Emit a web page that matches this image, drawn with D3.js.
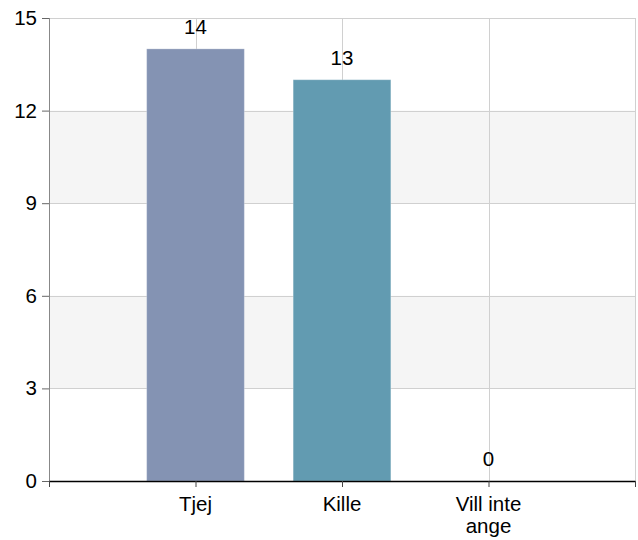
<!DOCTYPE html>
<html>
<head>
<meta charset="utf-8">
<script src="https://cdn.jsdelivr.net/npm/d3@7"></script>
<style>
  body { margin: 0; background: #fff; }
  text { font-family: "Liberation Sans", Arial, sans-serif; }
</style>
</head>
<body>
<div id="chart"></div>
<script>
const categories = ['Tjej', 'Kille', 'Vill inte ange']
const values = [14, 13, 0]
const colors = ['#8493b3', '#629bb1', '#7fa7c0']
const yTicks = [0, 3, 6, 9, 12, 15]

const chartWidth = 638
const chartHeight = 540
const margin = { top: 18, bottom: 59, left: 49, right: 3 }
const width = chartWidth - margin.left - margin.right
const height = chartHeight - margin.top - margin.bottom
const fontSize = 20.5

const svg = d3
  .select('#chart')
  .append('svg')
  .attr('width', chartWidth)
  .attr('height', chartHeight)
  .append('g')
  .attr('transform', `translate(${margin.left}, ${margin.top})`)

// categories sit at 1..n on a linear scale, with half a slot of room each side
const x = d3.scaleLinear().domain([0, categories.length + 1]).range([0, width])
const y = d3.scaleLinear().domain([0, 15]).range([height, 0])
const slot = x(1) - x(0)
const barWidth = slot * 2 / 3

// alternating bands
for (let i = 0; i < yTicks.length - 1; i++) {
  if (i % 2 === 1) {
    svg
      .append('rect')
      .attr('x', 0)
      .attr('y', y(yTicks[i + 1]))
      .attr('width', width)
      .attr('height', y(yTicks[i]) - y(yTicks[i + 1]))
      .attr('fill', '#f5f5f5')
  }
}

// grid
svg
  .selectAll('.hgrid')
  .data(yTicks)
  .enter()
  .append('line')
  .attr('x1', 0)
  .attr('x2', width)
  .attr('y1', (d) => Math.round(y(d)) + 0.5)
  .attr('y2', (d) => Math.round(y(d)) + 0.5)
  .attr('stroke', '#d0d0d0')
const xGrid = d3.range(1, categories.length + 2)
svg
  .selectAll('.vgrid')
  .data(xGrid)
  .enter()
  .append('line')
  .attr('x1', (d) => Math.round(x(d)) + 0.5)
  .attr('x2', (d) => Math.round(x(d)) + 0.5)
  .attr('y1', 0)
  .attr('y2', height)
  .attr('stroke', '#d0d0d0')

// bars
svg
  .selectAll('.bar')
  .data(values)
  .enter()
  .append('rect')
  .attr('class', 'bar')
  .attr('x', (d, i) => x(i + 1) - barWidth / 2)
  .attr('y', (d) => y(d))
  .attr('width', barWidth)
  .attr('height', (d) => height - y(d))
  .attr('fill', (d, i) => colors[i])
  .attr('stroke', 'rgba(255,255,255,0.25)')
  .attr('stroke-width', 1)

// value labels
svg
  .selectAll('.val')
  .data(values)
  .enter()
  .append('text')
  .text((d) => d)
  .attr('x', (d, i) => x(i + 1))
  .attr('y', (d) => y(d) - 15)
  .attr('text-anchor', 'middle')
  .attr('font-size', fontSize)
  .attr('fill', '#000')

// y axis
const yAxis = svg
  .append('g')
  .attr('class', 'axis y-axis')
  .call(d3.axisLeft(y).tickValues(yTicks).tickSize(7).tickPadding(5))
yAxis.select('.domain').attr('stroke', '#888').attr('d', `M0.5,0V${height + 6}`)
yAxis.selectAll('.tick line').attr('stroke', '#666')
yAxis.selectAll('.tick text').attr('font-size', fontSize).attr('fill', '#000').attr('font-family', null)

// x axis
const xAxis = svg
  .append('g')
  .attr('class', 'axis x-axis')
  .attr('transform', `translate(0, ${height})`)
  .call(
    d3
      .axisBottom(x)
      .tickValues(d3.range(0, categories.length + 2))
      .tickSize(6)
      .tickSizeOuter(0)
      .tickFormat(() => '')
  )
xAxis.select('.domain').attr('stroke', '#000').attr('stroke-width', 1.3)
xAxis.selectAll('.tick line').attr('stroke', '#444')

// category labels, wrapped
const wrapAt = 10
categories.forEach((c, i) => {
  const words = c.split(' ')
  const lines = []
  let cur = ''
  for (const w of words) {
    if (cur && (cur + ' ' + w).length > wrapAt) {
      lines.push(cur)
      cur = w
    } else cur = cur ? cur + ' ' + w : w
  }
  lines.push(cur)
  const t = svg
    .append('text')
    .attr('x', x(i + 1))
    .attr('y', height + 30)
    .attr('text-anchor', 'middle')
    .attr('font-size', fontSize)
    .attr('fill', '#000')
  lines.forEach((l, j) => {
    t.append('tspan')
      .attr('x', x(i + 1))
      .attr('dy', j === 0 ? 0 : 22)
      .text(l)
  })
})
</script>
</body>
</html>
